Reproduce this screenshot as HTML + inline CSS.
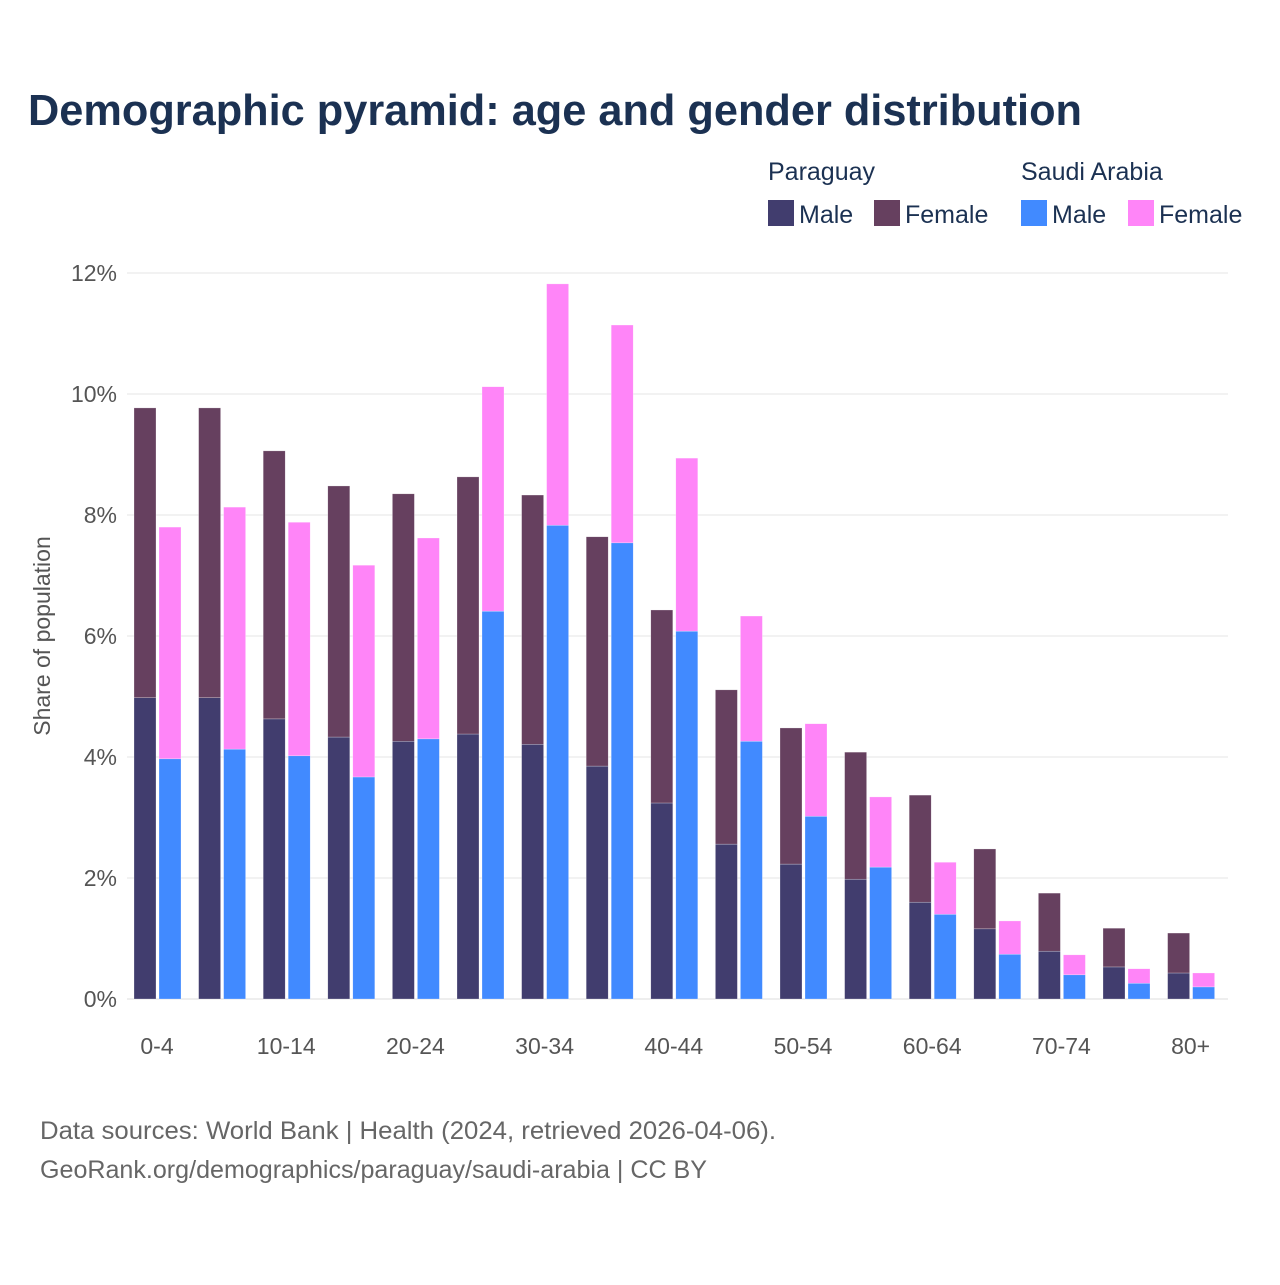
<!DOCTYPE html>
<html><head><meta charset="utf-8"><style>
body{margin:0;background:#fff;font-family:"Liberation Sans",sans-serif;}
</style></head><body>
<svg width="1280" height="1280" xmlns="http://www.w3.org/2000/svg">
<rect width="1280" height="1280" fill="#fff"/>
<text x="28" y="125" font-size="44" font-weight="bold" fill="#1b3152" textLength="1054" lengthAdjust="spacingAndGlyphs">Demographic pyramid: age and gender distribution</text>
<g font-size="25" fill="#1b3152">
<text x="768" y="180">Paraguay</text>
<text x="1021" y="180">Saudi Arabia</text>
<rect x="768" y="200" width="26" height="26" fill="#413d6e"/>
<text x="799" y="223">Male</text>
<rect x="874" y="200" width="26" height="26" fill="#66405f"/>
<text x="905" y="223">Female</text>
<rect x="1021" y="200" width="26" height="26" fill="#418aff"/>
<text x="1052" y="223">Male</text>
<rect x="1128" y="200" width="26" height="26" fill="#ff85f8"/>
<text x="1159" y="223">Female</text>
</g>
<g id="grid"></g>
<g id="bars"></g>
<g id="xlabels" font-size="23" fill="#555" text-anchor="middle"></g>
<text transform="translate(50,636) rotate(-90)" font-size="23" fill="#555" text-anchor="middle">Share of population</text>
<text x="40" y="1139" font-size="25" fill="#666" textLength="736" lengthAdjust="spacingAndGlyphs">Data sources: World Bank | Health (2024, retrieved 2026-04-06).</text>
<text x="40" y="1178" font-size="25" fill="#666" textLength="667" lengthAdjust="spacingAndGlyphs">GeoRank.org/demographics/paraguay/saudi-arabia | CC BY</text>
</svg>
<script>
const categories=["0-4","5-9","10-14","15-19","20-24","25-29","30-34","35-39","40-44","45-49","50-54","55-59","60-64","65-69","70-74","75-79","80+"];
const pyMale=[4.98,4.98,4.63,4.33,4.26,4.38,4.21,3.85,3.24,2.56,2.23,1.98,1.60,1.16,0.79,0.53,0.43];
const pyFemale=[4.79,4.79,4.43,4.15,4.09,4.25,4.12,3.79,3.19,2.55,2.25,2.10,1.77,1.32,0.96,0.64,0.66];
const saMale=[3.97,4.13,4.02,3.67,4.30,6.41,7.83,7.54,6.08,4.26,3.02,2.18,1.40,0.74,0.40,0.26,0.20];
const saFemale=[3.83,4.00,3.86,3.50,3.32,3.71,3.99,3.60,2.86,2.07,1.53,1.16,0.86,0.55,0.33,0.24,0.23];
const yTicks=[0,2,4,6,8,10,12];
const NS="http://www.w3.org/2000/svg";
const y0=999,pxPer=(999-273)/12;
function yS(v){return y0-v*pxPer;}
function xS(i){return 157+i*64.6;}
function mk(tag,attrs,parent){const e=document.createElementNS(NS,tag);for(const k in attrs)e.setAttribute(k,attrs[k]);parent.appendChild(e);return e;}
const grid=document.getElementById('grid');
yTicks.forEach(t=>{
  const l=mk('line',{x1:127,x2:1228,y1:yS(t),y2:yS(t),stroke:t===0?'#ddd':'#e6e6e6','stroke-width':1},grid);
  
  
  const tx=mk('text',{x:117,y:yS(t)+8,'font-size':23,fill:'#555','text-anchor':'end'},grid);
  tx.textContent=t+'%';
  
  
});
const bars=document.getElementById('bars');
function bar(x,v0,v1,fill,name){
  const r=mk('rect',{x:x,y:yS(v1),width:22,height:yS(v0)-yS(v1),fill:fill,stroke:'#fff','stroke-opacity':0.5,'stroke-width':0.5},bars);
  
  
}
categories.forEach((c,i)=>{
  const cx=xS(i);
  bar(cx-23,0,pyMale[i],'#413d6e','bar-paraguay-male-'+c);
  bar(cx-23,pyMale[i],pyMale[i]+pyFemale[i],'#66405f','bar-paraguay-female-'+c);
  bar(cx+2,0,saMale[i],'#418aff','bar-saudi-male-'+c);
  bar(cx+2,saMale[i],saMale[i]+saFemale[i],'#ff85f8','bar-saudi-female-'+c);
  if(i%2===0){
    const t=mk('text',{x:cx,y:1054},document.getElementById('xlabels'));
    t.textContent=c;
    
    
  }
});
</script>
</body></html>
